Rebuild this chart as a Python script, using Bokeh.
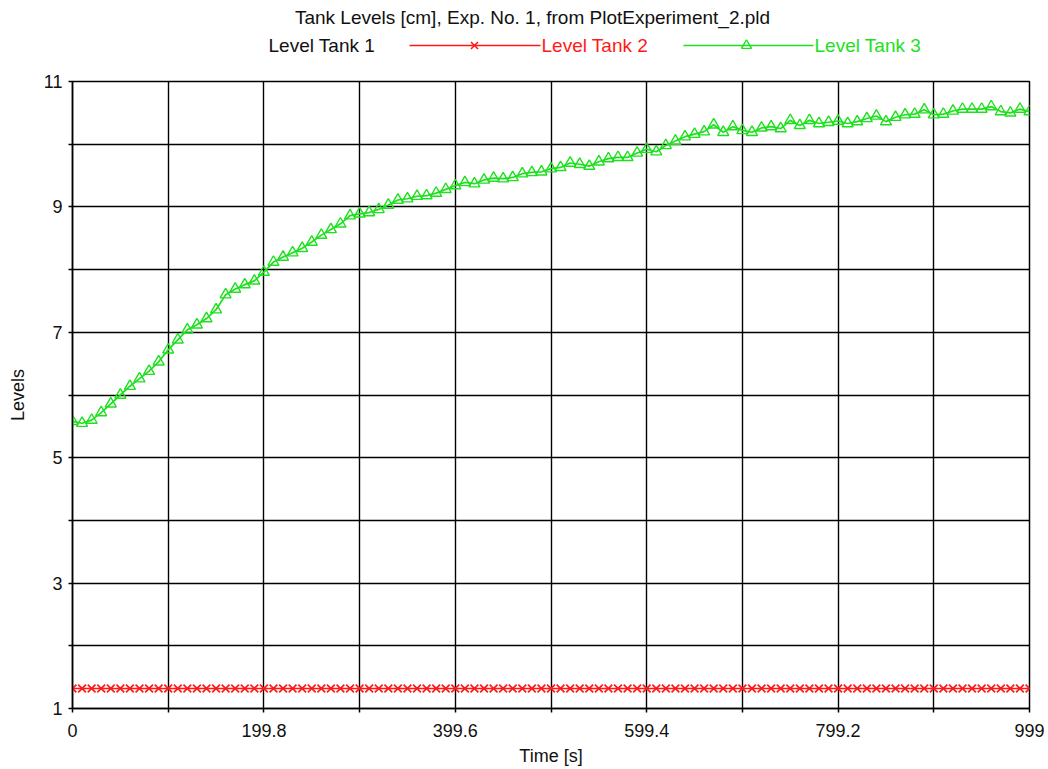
from bokeh.plotting import figure
from bokeh.models import Range1d, FixedTicker
from bokeh.layouts import column
from bokeh.core.properties import value
from bokeh.embed import file_html
from bokeh.resources import INLINE

TITLE = "Tank Levels [cm], Exp. No. 1, from PlotExperiment_2.pld"
series_names = ["Level Tank 1", "Level Tank 2", "Level Tank 3"]
x_axis_label = "Time [s]"
y_axis_label = "Levels"

# sample times (s)
time_s = [round(i * 9.99, 2) for i in range(101)]

level_tank2 = [1.32] * 101

level_tank3 = [
    5.58, 5.55, 5.60, 5.72, 5.86, 6.00, 6.14, 6.26, 6.38, 6.53,
    6.72, 6.88, 7.04, 7.12, 7.22, 7.36, 7.60, 7.69, 7.76, 7.82,
    7.96, 8.12, 8.20, 8.27, 8.34, 8.44, 8.55, 8.64, 8.73, 8.86,
    8.89, 8.91, 8.96, 9.03, 9.11, 9.13, 9.17, 9.18, 9.22, 9.28,
    9.34, 9.39, 9.37, 9.43, 9.46, 9.45, 9.47, 9.53, 9.55, 9.56,
    9.61, 9.63, 9.70, 9.68, 9.65, 9.72, 9.77, 9.79, 9.79, 9.86,
    9.92, 9.88, 9.98, 10.05, 10.12, 10.16, 10.20, 10.31, 10.19, 10.28,
    10.22, 10.19, 10.26, 10.28, 10.25, 10.38, 10.30, 10.38, 10.33, 10.35,
    10.37, 10.33, 10.36, 10.41, 10.45, 10.36, 10.43, 10.47, 10.48, 10.55,
    10.47, 10.48, 10.53, 10.56, 10.56, 10.56, 10.60, 10.52, 10.50, 10.56,
    10.52,
]

x_ticks = [0, 99.9, 199.8, 299.7, 399.6, 499.5, 599.4, 699.3, 799.2, 899.1, 999]
x_tick_labels = ["0", "", "199.8", "", "399.6", "", "599.4", "", "799.2", "", "999"]
y_ticks = [1, 2, 3, 4, 5, 6, 7, 8, 9, 10, 11]
y_tick_labels = ["1", "", "3", "", "5", "", "7", "", "9", "", "11"]

RED = "#ff1a1a"
GREEN = "#1ee01e"
TXT = "#111111"
FONT = value("Liberation Sans")

W = 1048
HDR_H = 64
BL, BR = 72, 19
X0, X1 = 0, 999
FW = W - BL - BR


def dx(px):
    """pixel offset from the frame's left edge -> time units (header layout)"""
    return X0 + px * (X1 - X0) / FW


# ---------- header (title + legend); its frame lines up with the main frame ----------
hdr = figure(width=W, height=HDR_H, output_backend="svg", toolbar_location=None,
             x_range=Range1d(X0, X1), y_range=Range1d(HDR_H, 0),
             min_border_left=BL, min_border_right=BR,
             min_border_top=0, min_border_bottom=0)
hdr.axis.visible = False
hdr.grid.visible = False
hdr.outline_line_color = None

ROW = 45
hdr.text(x=[dx(460)], y=[17], text=[TITLE], text_font=FONT, text_font_size="19px",
         text_align="center", text_baseline="middle", text_color=TXT)
hdr.text(x=[dx(196)], y=[ROW], text=[series_names[0]], text_font=FONT,
         text_font_size="19px", text_align="left", text_baseline="middle",
         text_color=TXT)
hdr.segment(x0=[dx(337)], y0=[ROW], x1=[dx(468)], y1=[ROW], line_color=RED,
            line_width=1.5)
hdr.scatter(x=[dx(402)], y=[ROW], marker="x", size=10, line_color=RED, line_width=1.6)
hdr.text(x=[dx(469)], y=[ROW], text=[series_names[1]], text_font=FONT,
         text_font_size="19px", text_align="left", text_baseline="middle",
         text_color=RED)
hdr.segment(x0=[dx(611)], y0=[ROW], x1=[dx(741)], y1=[ROW], line_color=GREEN,
            line_width=1.5)
hdr.scatter(x=[dx(674)], y=[ROW], marker="triangle", size=10, line_color=GREEN,
            fill_color=None, line_width=1.4)
hdr.text(x=[dx(742)], y=[ROW], text=[series_names[2]], text_font=FONT,
         text_font_size="19px", text_align="left", text_baseline="middle",
         text_color=GREEN)

# ---------- main plot ----------
MAIN_H = 769 - HDR_H
p = figure(width=W, height=MAIN_H, output_backend="svg", toolbar_location=None,
           x_range=Range1d(X0, X1), y_range=Range1d(1, 11),
           min_border_left=BL, min_border_right=BR, min_border_top=81 - HDR_H,
           min_border_bottom=769 - 708)

p.line(time_s, level_tank2, line_color=RED, line_width=1.6)
p.scatter(time_s, level_tank2, marker="x", size=11, line_color=RED, line_width=1.7)

p.line(time_s, level_tank3, line_color=GREEN, line_width=1.7)
p.scatter(time_s, level_tank3, marker="triangle", size=11, line_color=GREEN,
          fill_color=None, line_width=1.4)

p.xaxis.ticker = FixedTicker(ticks=x_ticks)
p.yaxis.ticker = FixedTicker(ticks=y_ticks)
p.xaxis.major_label_overrides = {t: l for t, l in zip(x_ticks, x_tick_labels)}
p.yaxis.major_label_overrides = {t: l for t, l in zip(y_ticks, y_tick_labels)}

for ax in (p.xaxis[0], p.yaxis[0]):
    ax.axis_line_color = "black"
    ax.axis_line_width = 1.5
    ax.major_tick_line_color = "black"
    ax.major_tick_line_width = 1.5
    ax.major_tick_in = 0
    ax.major_tick_out = 4
    ax.minor_tick_line_color = None
    ax.major_label_text_font = "Liberation Sans"
    ax.major_label_text_font_size = "18px"
    ax.major_label_text_color = TXT
    ax.axis_label_text_font = "Liberation Sans"
    ax.axis_label_text_font_size = "18px"
    ax.axis_label_text_font_style = "normal"
    ax.axis_label_text_color = TXT

p.xaxis.axis_label = x_axis_label
p.yaxis.axis_label = y_axis_label
p.xaxis.major_label_standoff = 11
p.yaxis.major_label_standoff = 6
p.xaxis.axis_label_standoff = 6
p.yaxis.axis_label_standoff = 13

p.grid.grid_line_color = "black"
p.grid.grid_line_width = 1.4
p.grid.grid_line_alpha = 1.0
p.outline_line_color = "black"
p.outline_line_width = 1.5
p.background_fill_color = "white"
p.border_fill_color = "white"

layout = column(hdr, p, spacing=0)
open("out.html", "w").write(file_html(layout, INLINE))
